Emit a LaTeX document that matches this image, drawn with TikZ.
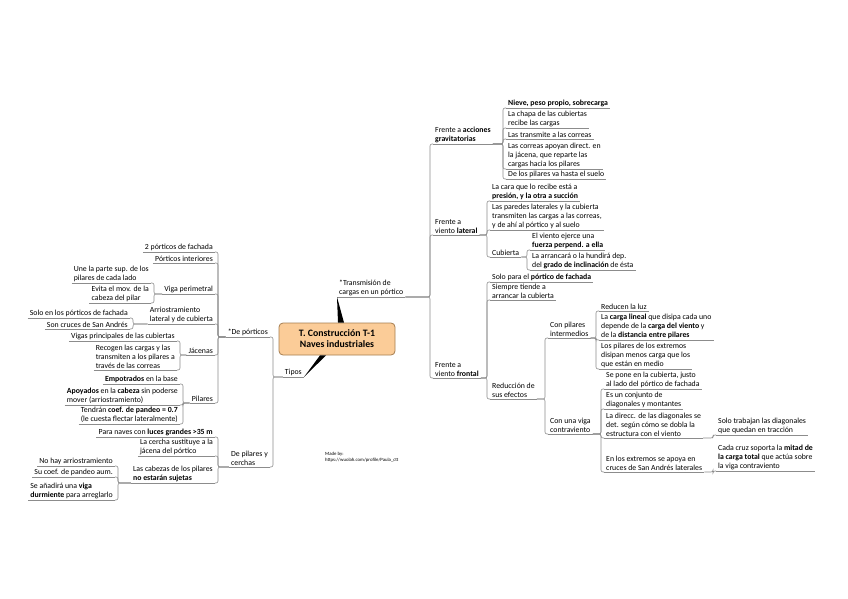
\documentclass[tikz,border=0pt]{standalone}
\usepackage{fontspec}
\setmainfont{Carlito}
\usetikzlibrary{calc}
\definecolor{linegray}{RGB}{140,140,140}
\definecolor{rootfill}{RGB}{251,204,152}
\definecolor{rootline}{RGB}{165,125,80}
\newcommand{\topicfont}{\fontsize{7.8}{9}\selectfont}
% parent -> child, right and left side
\newcommand{\linkR}[2]{\draw[conn] (#1.south east) -| ($(#2.south west)+(-3,0)$) -- (#2.south west);}
\newcommand{\linkL}[2]{\draw[conn] (#1.south west) -| ($(#2.south east)+(3,0)$) -- (#2.south east);}

\begin{document}
\begin{tikzpicture}[x=1pt, y=-1pt,
  topic/.style={inner xsep=2pt, inner ysep=1pt, align=left, font=\topicfont},
  rt/.style={topic, anchor=south west},
  lt/.style={topic, anchor=south east},
  conn/.style={draw=linegray, line width=0.6pt, rounded corners=2pt},
  uline/.style={draw=linegray, line width=0.6pt},
  root/.style={draw=rootline, fill=rootfill, rounded corners=4pt, line width=0.8pt,
    minimum width=116pt, minimum height=32pt, align=center,
    font=\fontsize{9.8}{11}\selectfont\bfseries}]
\useasboundingbox (0,0) rectangle (848,599);

\node[root] (root) at (337,339) {T. Construcción T-1\\Naves industriales};

% right: transmision de cargas
\node[rt] (trans) at (337,297) {*Transmisión de\\cargas en un pórtico};
\node[rt] (grav) at (433,144) {Frente a \textbf{acciones}\\\textbf{gravitatorias}};
\node[rt] (lat) at (433,235) {Frente a\\viento \textbf{lateral}};
\node[rt] (front) at (433,378) {Frente a\\viento \textbf{frontal}};

\node[rt] (g1) at (506,108) {\textbf{Nieve, peso propio, sobrecarga}};
\node[rt] (g2) at (506,128) {La chapa de las cubiertas\\recibe las cargas};
\node[rt] (g3) at (506,139) {Las transmite a las correas};
\node[rt] (g4) at (506,169) {Las correas apoyan direct. en\\la jácena, que reparte las\\cargas hacia los pilares};
\node[rt] (g5) at (506,179) {De los pilares va hasta el suelo};

\node[rt] (l1) at (490,201) {La cara que lo recibe está a\\\textbf{presión, y la otra a succión}};
\node[rt] (l2) at (490,230) {Las paredes laterales y la cubierta\\transmiten las cargas a las correas,\\y de ahí al pórtico y al suelo};
\node[rt] (cub) at (490,257) {Cubierta};
\node[rt] (c1) at (530,250) {El viento ejerce una\\\textbf{fuerza perpend. a ella}};
\node[rt] (c2) at (530,270) {La arrancará o la hundirá dep.\\del \textbf{grado de inclinación} de ésta};

\node[rt] (f1) at (490,282) {Solo para el \textbf{pórtico de fachada}};
\node[rt] (f2) at (490,300) {Siempre tiende a\\arrancar la cubierta};
\node[rt] (red) at (490,399) {Reducción de\\sus efectos};
\node[rt] (pint) at (548,338) {Con pilares\\intermedios};
\node[rt] (vcv) at (548,434) {Con una viga\\contraviento};

\node[rt] (p1) at (599,311) {Reducen la luz};
\node[rt] (p2) at (599,340) {La \textbf{carga lineal} que disipa cada uno\\depende de la \textbf{carga del viento} y\\de la \textbf{distancia entre pilares}};
\node[rt] (p3) at (599,369) {Los pilares de los extremos\\disipan menos carga que los\\que están en medio};

\node[rt] (v1) at (604,389) {Se pone en la cubierta, justo\\al lado del pórtico de fachada};
\node[rt] (v2) at (604,409) {Es un conjunto de\\diagonales y montantes};
\node[rt] (v3) at (604,438) {La direcc. de las diagonales se\\det. según cómo se dobla la\\estructura con el viento};
\node[rt] (v4) at (604,472) {En los extremos se apoya en\\cruces de San Andrés laterales};
\node[rt] (s1) at (716,435) {Solo trabajan las diagonales\\que quedan en tracción};
\node[rt] (s2) at (716,471) {Cada cruz soporta la \textbf{mitad de}\\\textbf{la carga total} que actúa sobre\\la viga contraviento};

% left: tipos
\node[lt] (tipos) at (304,377) {Tipos};
\node[lt] (dport) at (270,337) {*De pórticos};
\node[lt] (dpc) at (270,467) {De pilares y\\cerchas};

\node[lt] (d1) at (215,252) {2 pórticos de fachada};
\node[lt] (d2) at (215,263) {Pórticos interiores};
\node[lt] (vper) at (215,294) {Viga perimetral};
\node[lt] (arr) at (215,324) {Arriostramiento\\lateral y de cubierta};
\node[lt] (jac) at (215,355) {Jácenas};
\node[lt] (pila) at (215,403) {Pilares};

\node[lt] (vp1) at (151,283) {Une la parte sup. de los\\pilares de cada lado};
\node[lt] (vp2) at (151,303) {Evita el mov. de la\\cabeza del pilar};
\node[lt] (a1) at (130,318) {Solo en los pórticos de fachada};
\node[lt] (a2) at (130,329) {Son cruces de San Andrés};
\node[lt] (j1) at (177,341) {Vigas principales de las cubiertas};
\node[lt] (j2) at (177,370) {Recogen las cargas y las\\transmiten a los pilares a\\través de las correas};
\node[lt] (pl1) at (180,384) {\textbf{Empotrados} en la base};
\node[lt] (pl2) at (180,405) {\textbf{Apoyados} en la \textbf{cabeza} sin poderse\\mover (arriostramiento)};
\node[lt] (pl3) at (180,424) {Tendrán \textbf{coef. de pandeo = 0.7}\\(le cuesta flectar lateralmente)};

\node[lt] (e1) at (215,437) {Para naves con \textbf{luces grandes >35 m}};
\node[lt] (e2) at (215,456) {La cercha sustituye a la\\jácena del pórtico};
\node[lt] (cab) at (215,483) {Las cabezas de los pilares\\\textbf{no estarán sujetas}};
\node[lt] (k1) at (115,466) {No hay arriostramiento};
\node[lt] (k2) at (115,477) {Su coef. de pandeo aum.};
\node[lt] (k3) at (115,500) {Se añadirá una \textbf{viga}\\\textbf{durmiente} para arreglarlo};

\node[anchor=north west, inner sep=0pt, align=left, font=\fontsize{4.8}{6}\selectfont] (madeby) at (325,452)
  {Made by:\\https://wuolah.com/profile/Paula\_ctt};

% underlines
\foreach \n in {trans,grav,lat,front,g1,g2,g3,g4,g5,l1,l2,cub,c1,c2,f1,f2,red,pint,vcv,
    p1,p2,p3,v1,v2,v3,v4,s1,s2,tipos,dport,dpc,d1,d2,vper,arr,jac,pila,vp1,vp2,a1,a2,
    j1,j2,pl1,pl2,pl3,e1,e2,cab,k1,k2,k3}
  \draw[uline] (\n.south west) -- (\n.south east);

% connectors
\foreach \c in {grav,lat,front} \linkR{trans}{\c};
\foreach \c in {g1,g2,g3,g4,g5} \linkR{grav}{\c};
\foreach \c in {l1,l2,cub} \linkR{lat}{\c};
\foreach \c in {c1,c2} \linkR{cub}{\c};
\foreach \c in {f1,f2,red} \linkR{front}{\c};
\foreach \c in {pint,vcv} \linkR{red}{\c};
\foreach \c in {p1,p2,p3} \linkR{pint}{\c};
\foreach \c in {v1,v2,v3,v4} \linkR{vcv}{\c};
\linkR{v3}{s1}
\linkR{v4}{s2}

\foreach \c in {dport,dpc} \linkL{tipos}{\c};
\foreach \c in {d1,d2,vper,arr,jac,pila} \linkL{dport}{\c};
\foreach \c in {vp1,vp2} \linkL{vper}{\c};
\foreach \c in {a1,a2} \linkL{arr}{\c};
\foreach \c in {j1,j2} \linkL{jac}{\c};
\foreach \c in {pl1,pl2,pl3} \linkL{pila}{\c};
\foreach \c in {e1,e2,cab} \linkL{dpc}{\c};
\foreach \c in {k1,k2,k3} \linkL{cab}{\c};

% main branches
\fill (trans.south west) -- ($(root.north)+(1,0)$) -- ($(root.north)+(7,0)$) -- cycle;
\fill (tipos.south east) -- ($(root.south)+(-17,0)$) -- ($(root.south)+(-11,0)$) -- cycle;
\end{tikzpicture}
\end{document}
